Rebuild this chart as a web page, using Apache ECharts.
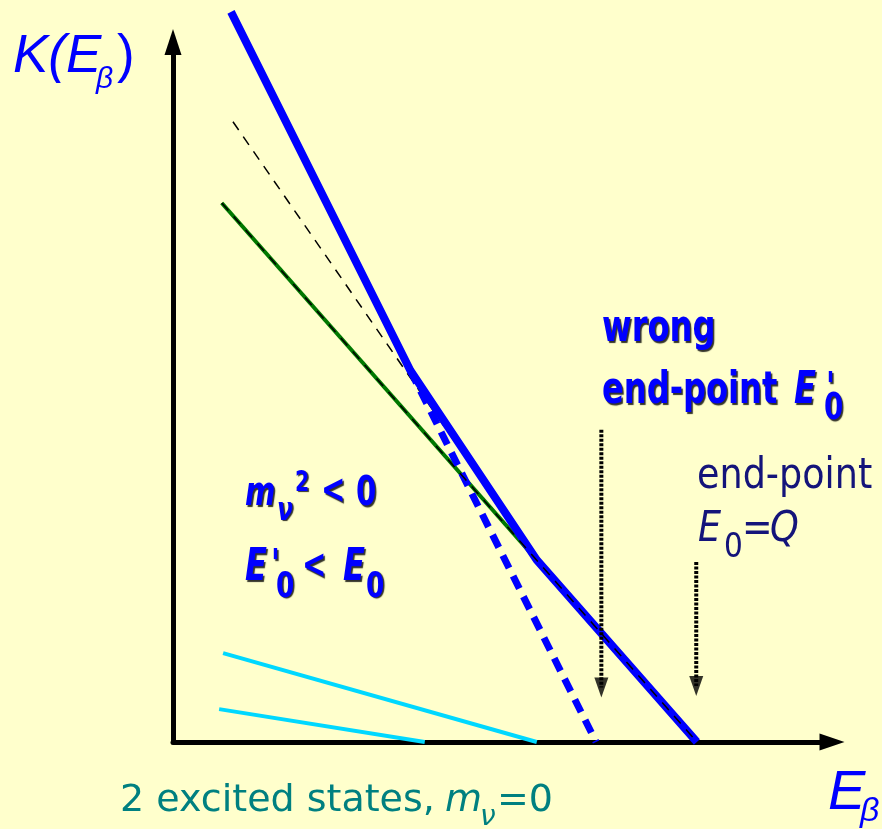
<!DOCTYPE html>
<html>
<head>
<meta charset="utf-8">
<script src="https://cdn.jsdelivr.net/npm/echarts@6/dist/echarts.min.js"></script>
<style>
  html, body { margin: 0; padding: 0; background: #ffffcc; }
  #main { width: 882px; height: 829px; }
</style>
</head>
<body>
<div id="main"></div>
<script>
// Kurie-Plot (Schema), Einheiten willkürlich: E auf x 0..10, K auf y 0..10

// Summe (dicke blaue Linie)
const sumE = [0.88, 3.60, 5.52, 7.95]
const sumK = [10.43, 5.31, 2.60, 0]
// falscher Endpunkt (blau gestrichelt)
const wrongE = [3.60, 6.42]
const wrongK = [5.31, 0]
// Grundzustand (grün)
const groundE = [0.74, 5.52]
const groundK = [7.70, 2.60]
// dünne schwarze Hilfslinien
const fit1E = [0.91, 5.52]
const fit1K = [8.86, 2.60]
const fit2E = [0.74, 7.95]
const fit2K = [7.70, 0]
// 2 angeregte Zustände (cyan)
const exc1E = [0.76, 5.52]
const exc1K = [1.27, 0]
const exc2E = [0.70, 3.82]
const exc2K = [0.47, 0]
// Pfeile auf die Endpunkte
const arrowE = [6.50, 7.94]
const arrowTop = [4.46, 2.57]
const arrowHead = [0.78, 0.80]

const pairs = (xs, ys) => xs.map((x, i) => [x, ys[i]])

function line(xs, ys, color, width, type, z) {
  return {
    type: 'line',
    data: pairs(xs, ys),
    showSymbol: false,
    clip: false,
    silent: true,
    z: z,
    lineStyle: { color: color, width: width, type: type || 'solid', cap: 'butt', join: 'miter' }
  }
}

const series = [
  line(exc1E, exc1K, '#00d8ff', 4, 'solid', 2),
  line(exc2E, exc2K, '#00d8ff', 4, 'solid', 2),
  line(groundE, groundK, '#007800', 4, 'solid', 3),
  line(fit1E, fit1K, '#000', 1.5, [10, 8], 4),
  line(wrongE, wrongK, '#0000ff', 7, [14, 9], 5),
  line(sumE, sumK, '#0000ff', 8, 'solid', 6),
  line(fit2E, fit2K, '#000', 1.5, [10, 8], 7)
]
// gepunktete Pfeile
arrowE.forEach((e, i) => {
  series.push(line([e, e], [arrowTop[i], arrowHead[i]], '#000', 4, [3, 1.5], 8))
  series.push({
    type: 'scatter',
    data: [[e, arrowHead[i]]],
    symbol: 'triangle',
    symbolRotate: 180,
    symbolSize: [14, 20],
    itemStyle: { color: '#000' },
    silent: true,
    z: 8
  })
})

// Textbausteine (mit Tief-/Hochstellung einzeln gesetzt)
function txt(text, x, base, size, o) {
  o = o || {}
  const fam = o.family || "'DejaVu Sans'"
  const st = {
    text: text,
    fill: o.color,
    font: (o.italic ? 'italic ' : '') + (o.bold ? 'bold ' : '') + size + 'px ' + fam,
    align: 'left',
    verticalAlign: 'middle'
  }
  if (o.shadow) {
    st.textShadowColor = 'rgba(0,0,0,0.8)'
    st.textShadowOffsetX = 1.5
    st.textShadowOffsetY = 1.5
    st.textShadowBlur = 1
  }
  return { type: 'text', x: x, y: base - 0.3 * size, scaleX: o.sx || 1, silent: true, z: 20, style: st }
}

const BLUE = '#0000ff'
const NAVY = '#14147a'
const TEAL = '#008080'
const lib = "'Liberation Sans'"
const bb = { color: BLUE, bold: true, shadow: true, sx: 0.73 }
const bbi = Object.assign({}, bb, { italic: true })
const nv = { color: NAVY, sx: 0.87 }
const nvi = Object.assign({}, nv, { italic: true })
const tl = { color: TEAL, sx: 1.0 }
const tli = Object.assign({}, tl, { italic: true })

const labels = [
  // K(E_beta)
  txt('K(E', 13, 73, 53, { color: BLUE, italic: true, family: lib }),
  txt('β', 96, 89, 30, { color: BLUE, italic: true, family: lib }),
  txt(')', 117, 73, 53, { color: BLUE, family: lib }),
  // wrong end-point E'0
  txt('wrong', 602, 343, 44, bb),
  txt('end-point', 602, 405, 44, bb),
  txt('E', 794, 405, 44, bbi),
  txt("'", 826, 403, 40, bbi),
  txt('0', 824, 421, 38, bb),
  // m_nu^2 < 0
  txt('m', 245, 507, 40, bbi),
  txt('ν', 277, 521, 32, bbi),
  txt('2', 295, 492, 28, bb),
  txt('<', 321, 505, 40, bb),
  txt('0', 356, 507, 40, bb),
  // E'0 < E0
  txt('E', 245, 582, 44, bbi),
  txt("'", 271, 580, 40, bbi),
  txt('0', 276, 598, 36, bb),
  txt('<', 302, 580, 40, bb),
  txt('E', 343, 582, 44, bbi),
  txt('0', 366, 598, 36, bb),
  // end-point E0=Q
  txt('end-point', 697, 490, 42, nv),
  txt('E', 698, 543, 42, nvi),
  txt('0', 724, 558, 34, nv),
  txt('=', 742, 543, 42, nv),
  txt('Q', 770, 543, 42, nvi),
  // 2 excited states, m_nu=0
  txt('2 excited states,', 120, 813, 38, tl),
  txt('m', 445, 813, 38, tli),
  txt('ν', 480, 826, 28, tli),
  txt('=0', 497, 813, 38, tl),
  // E_beta
  txt('E', 828, 810, 56, { color: BLUE, italic: true, family: lib }),
  txt('β', 860, 822, 34, { color: BLUE, italic: true, family: lib })
]

const axisCommon = {
  type: 'value',
  min: 0,
  max: 10,
  axisTick: { show: false },
  axisLabel: { show: false },
  splitLine: { show: false }
}

const myChart = echarts.init(document.getElementById('main'))
myChart.setOption({
  animation: false,
  backgroundColor: '#ffffcc',
  grid: { left: 173, right: 50, top: 42, bottom: 87 },
  xAxis: Object.assign({}, axisCommon, {
    axisLine: { show: true, symbol: ['none', 'triangle'], symbolSize: [17, 25], lineStyle: { color: '#000', width: 5 } }
  }),
  yAxis: Object.assign({}, axisCommon, {
    axisLine: { show: true, symbol: ['none', 'triangle'], symbolSize: [17, 26], lineStyle: { color: '#000', width: 5 } }
  }),
  series: series,
  graphic: labels
})
</script>
</body>
</html>
